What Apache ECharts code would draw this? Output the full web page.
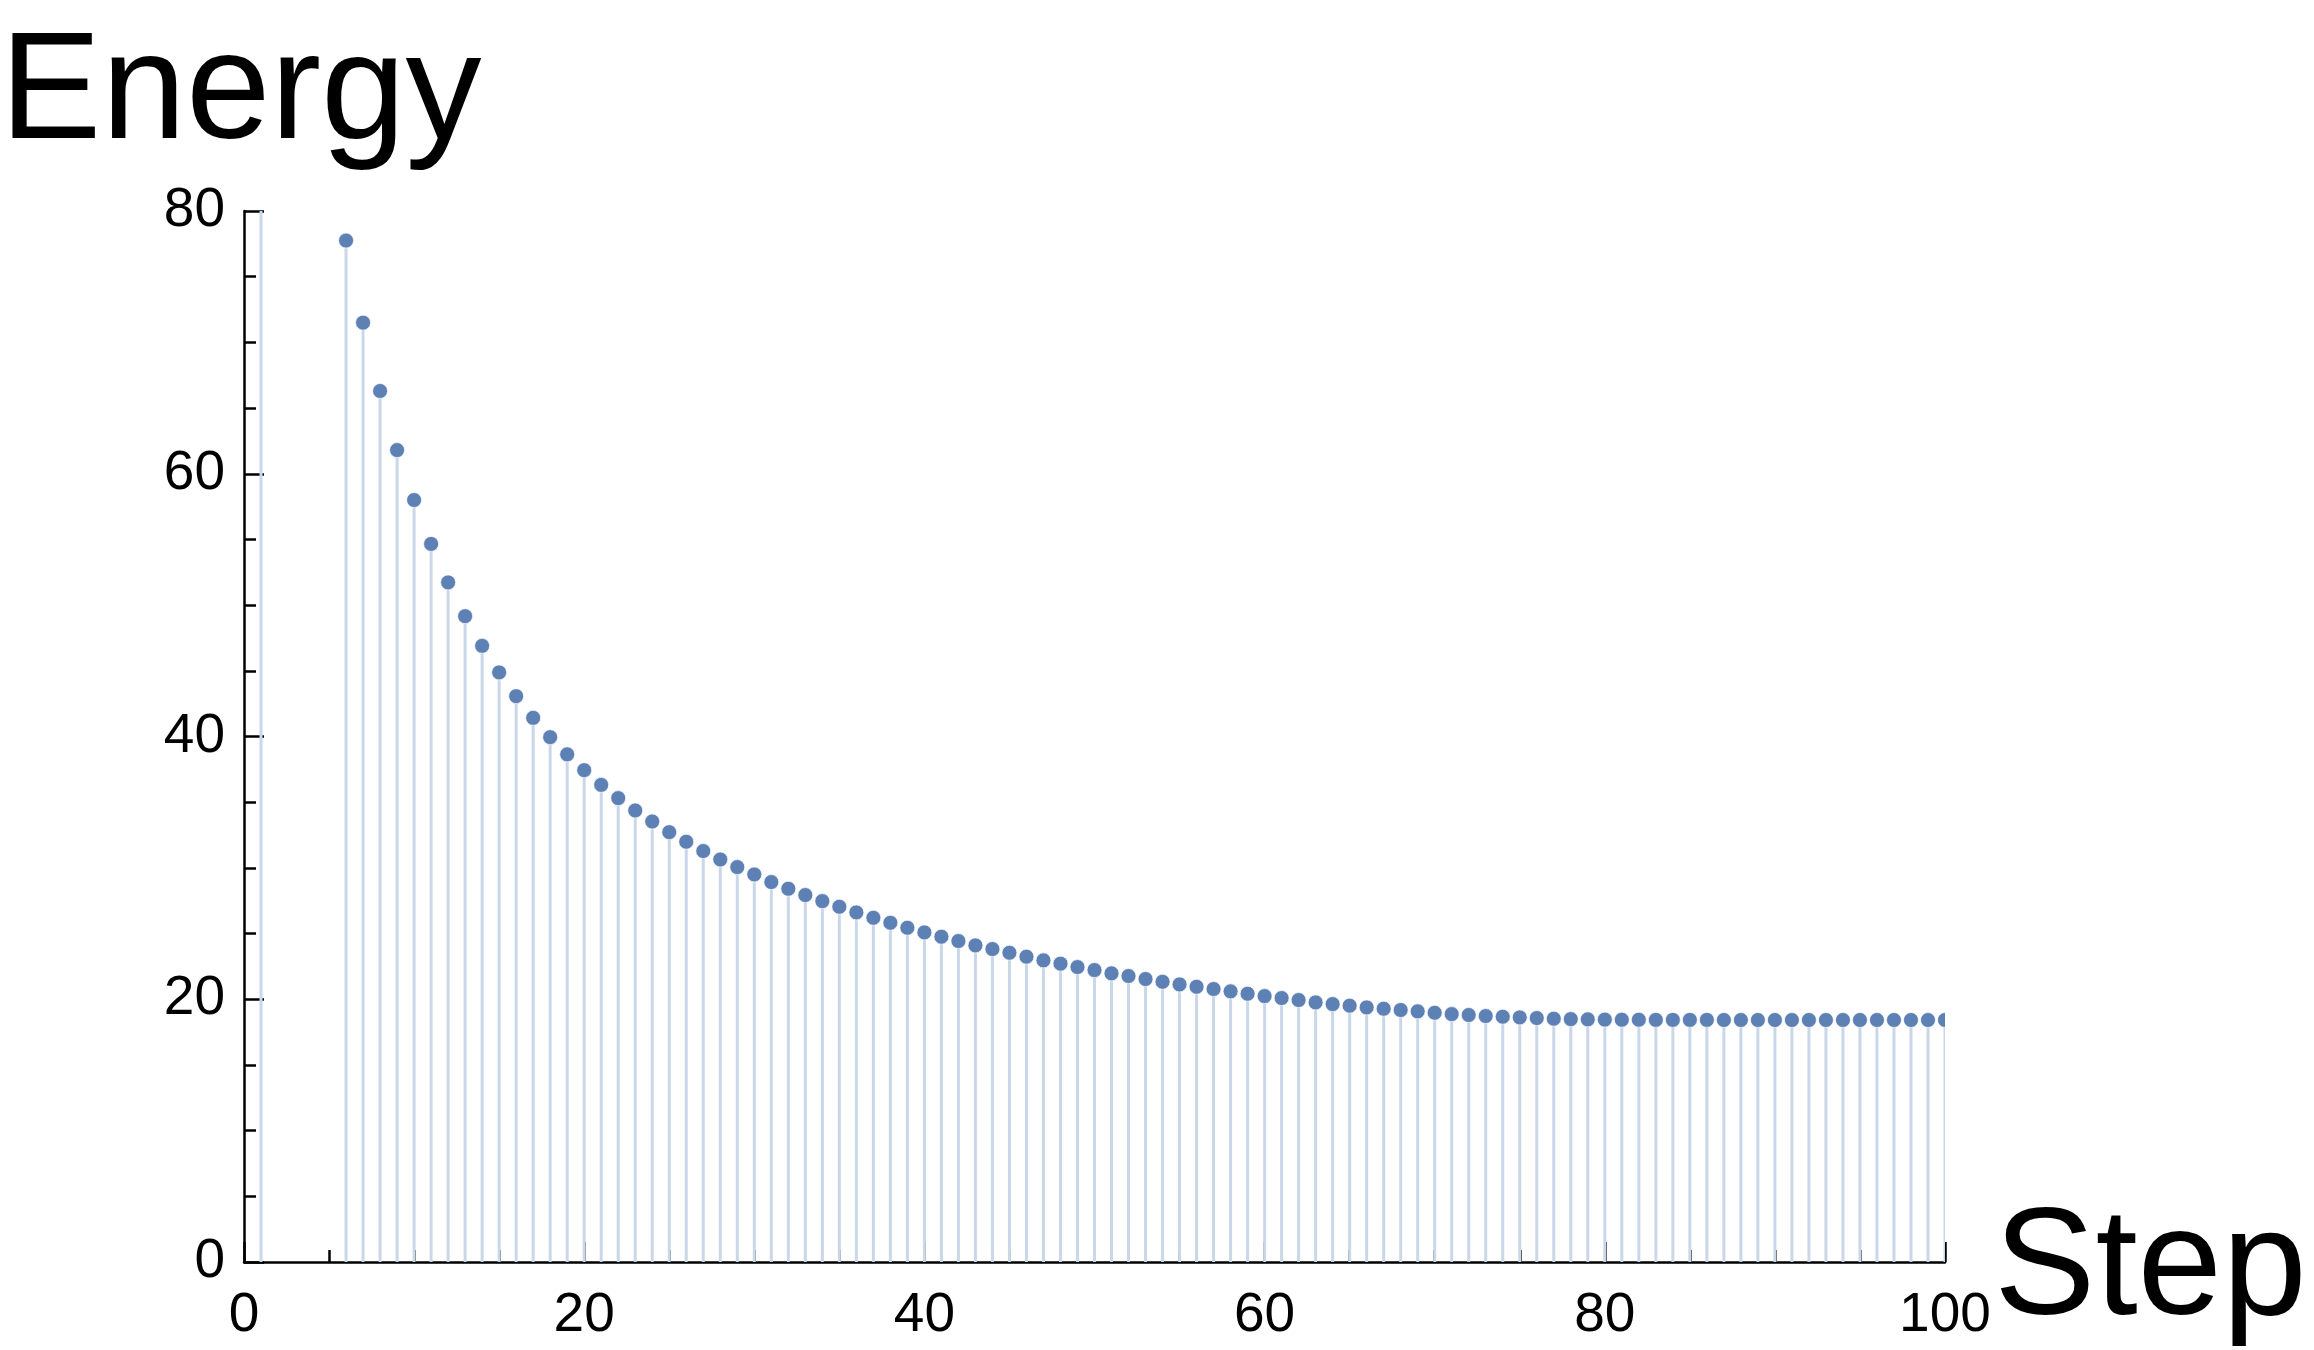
<!DOCTYPE html>
<html>
<head>
<meta charset="utf-8">
<script src="https://cdn.jsdelivr.net/npm/echarts@6/dist/echarts.min.js"></script>
<style>
html,body{margin:0;padding:0;background:#fff;}
#chart{width:2314px;height:1350px;}
</style>
</head>
<body>
<div id="chart"></div>
<script>
// Steps (x) and Energy values (y). Step 1 lies far above the plot range (clipped); steps 2-5 are absent.
const steps = [1,6,7,8,9,10,11,12,13,14,15,16,17,18,19,20,21,22,23,24,25,26,27,28,29,30,
  31,32,33,34,35,36,37,38,39,40,41,42,43,44,45,46,47,48,49,50,
  51,52,53,54,55,56,57,58,59,60,61,62,63,64,65,66,67,68,69,70,
  71,72,73,74,75,76,77,78,79,80,81,82,83,84,85,86,87,88,89,90,
  91,92,93,94,95,96,97,98,99,100];
const energy = [120,77.75,71.5,66.3,61.8,58.0,54.66,51.73,49.16,46.9,44.88,43.07,41.42,39.95,38.64,37.44,36.32,35.31,34.37,33.53,32.72,31.99,31.28,30.64,30.06,29.5,
  28.92,28.41,27.93,27.47,27.04,26.61,26.2,25.82,25.44,25.09,24.76,24.43,24.1,23.82,23.54,23.24,22.96,22.71,22.45,22.22,
  21.97,21.77,21.54,21.33,21.13,20.95,20.78,20.6,20.42,20.24,20.09,19.94,19.76,19.63,19.51,19.38,19.28,19.18,19.08,18.97,
  18.87,18.8,18.72,18.67,18.62,18.57,18.52,18.49,18.47,18.45,18.44,18.44,18.43,18.43,18.43,18.43,18.42,18.42,18.42,18.42,
  18.42,18.42,18.42,18.42,18.42,18.42,18.42,18.42,18.42,18.42];
const xTicks = [0,20,40,60,80,100];
const yTicks = [0,20,40,60,80];

const data = steps.map((s,i)=>[s, energy[i]]);
const chart = echarts.init(document.getElementById('chart'), null, {renderer:'canvas'});
const FONT = '"Liberation Sans", Arial, sans-serif';
const axisCommon = {
  axisLine:{show:true, onZero:false, lineStyle:{color:'#000', width:2.5}},
  axisTick:{show:true, inside:true, length:20, lineStyle:{color:'#000', width:2.5}},
  minorTick:{show:true, splitNumber:4, length:12, lineStyle:{color:'#000', width:2.5}},
  splitLine:{show:false},
  minorSplitLine:{show:false}
};
chart.setOption({
  animation:false,
  backgroundColor:'#fff',
  grid:{left:244, right:369, top:211, bottom:88, containLabel:false},
  xAxis:Object.assign({
    type:'value', min:xTicks[0], max:xTicks[xTicks.length-1], interval:20,
    axisLabel:{fontFamily:FONT, fontSize:55, color:'#000', margin:26}
  }, axisCommon),
  yAxis:Object.assign({
    type:'value', min:yTicks[0], max:yTicks[yTicks.length-1], interval:20,
    axisLabel:{fontFamily:FONT, fontSize:55, color:'#000', margin:19}
  }, axisCommon),
  graphic:[
    {type:'text', left:0, top:20, style:{text:'Energy', font:'152px ' + FONT, fill:'#000'}},
    {type:'text', left:1994, top:1196, style:{text:'Step', font:'152px ' + FONT, fill:'#000'}}
  ],
  series:[{
    type:'custom',
    clip:true,
    data:data,
    encode:{x:0, y:1},
    renderItem:function(params, api){
      const x = api.value(0), y = api.value(1);
      const base = api.coord([x, 0]);
      const top = api.coord([x, y]);
      return {type:'group', children:[
        {type:'line', shape:{x1:base[0], y1:base[1], x2:top[0], y2:top[1]}, style:{stroke:'#cad7e9', lineWidth:3}},
        {type:'circle', shape:{cx:top[0], cy:top[1], r:7.5}, style:{fill:'#5e81b5', stroke:'rgba(255,255,255,0.7)', lineWidth:1}}
      ]};
    }
  }]
});
</script>
</body>
</html>
